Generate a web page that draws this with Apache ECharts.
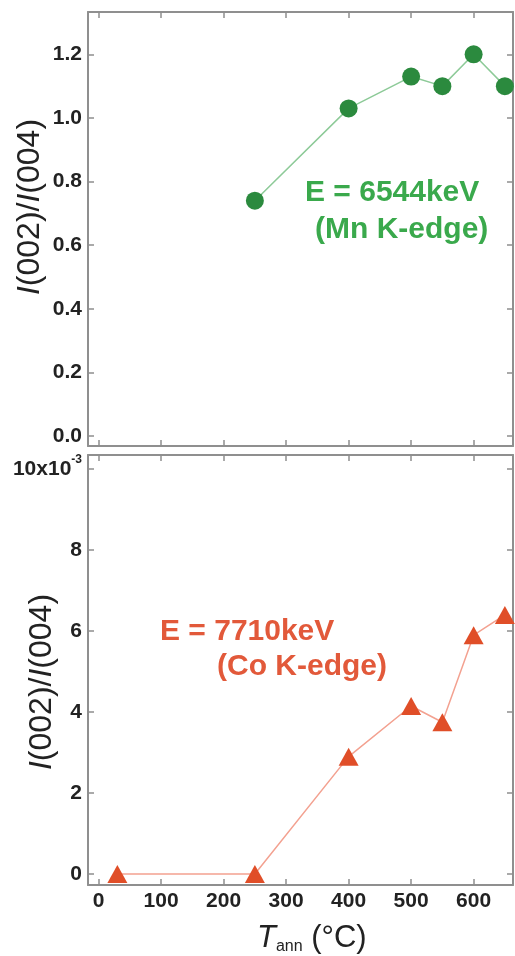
<!DOCTYPE html>
<html>
<head>
<meta charset="utf-8">
<script src="https://cdn.jsdelivr.net/npm/echarts@6/dist/echarts.min.js"></script>
<style>
html, body { margin: 0; padding: 0; background: #fff; }
#chart { width: 515px; height: 956px; }
</style>
</head>
<body>
<div id="chart"></div>
<script>
// Mn K-edge (top panel)
const mnTemps = [250, 400, 500, 550, 600, 650]
const mnRatio = [0.74, 1.03, 1.13, 1.10, 1.20, 1.10]
// Co K-edge (bottom panel), values in units of 10^-3
const coTemps = [30, 250, 400, 500, 550, 600, 650]
const coRatio = [0.0, 0.0, 2.9, 4.15, 3.75, 5.9, 6.4]

const xTicks = [0, 100, 200, 300, 400, 500, 600]
const yTicksTop = [0, 0.2, 0.4, 0.6, 0.8, 1.0, 1.2]
const yTicksBottom = [0, 2, 4, 6, 8, 10]

const frame = '#8f8f8f'
const font = '"Liberation Sans", Arial, sans-serif'
const green = '#2b8a3e'
const red = '#e04e28'

const chart = echarts.init(document.getElementById('chart'))

function xAxis(gridIndex, position, labels) {
  return {
    type: 'value', gridIndex, position,
    min: -17, max: 663,
    axisLine: { show: true, onZero: false, lineStyle: { color: frame, width: 2 } },
    axisTick: { show: true, inside: true, length: 6, customValues: xTicks, lineStyle: { color: frame, width: 1.5 } },
    axisLabel: { show: labels, customValues: xTicks, margin: 6, color: '#222', fontSize: 21, fontWeight: 'bold', fontFamily: font },
    splitLine: { show: false }
  }
}

function yAxis(gridIndex, position, min, max, ticks, labels, fmt) {
  return {
    type: 'value', gridIndex, position, min, max,
    axisLine: { show: true, onZero: false, lineStyle: { color: frame, width: 2 } },
    axisTick: { show: true, inside: true, length: 6, customValues: ticks, lineStyle: { color: frame, width: 1.5 } },
    axisLabel: {
      show: labels, customValues: ticks, margin: 6, color: '#222', fontSize: 21, fontWeight: 'bold', fontFamily: font,
      formatter: fmt,
      rich: { sup: { fontSize: 12, color: '#222', fontFamily: font, padding: [0, 0, 18, 0] } }
    },
    splitLine: { show: false }
  }
}

const yName = '{i|I}(002)/{i|I}(004)'
const yNameRich = { i: { fontStyle: 'italic', fontSize: 32, fontFamily: font, fill: '#222' } }

const option = {
  animation: false,
  backgroundColor: '#fff',
  grid: [
    { left: 88, top: 12, right: 2, height: 434 },
    { left: 88, top: 455, right: 2, height: 430 }
  ],
  xAxis: [
    xAxis(0, 'bottom', false),
    xAxis(0, 'top', false),
    xAxis(1, 'bottom', true),
    xAxis(1, 'top', false)
  ],
  yAxis: [
    yAxis(0, 'left', -0.031, 1.333, yTicksTop, true, v => v.toFixed(1)),
    yAxis(0, 'right', -0.031, 1.333, yTicksTop, false),
    yAxis(1, 'left', -0.27, 10.35, yTicksBottom, true, v => v === 10 ? '10x10{sup|-3}' : String(v)),
    yAxis(1, 'right', -0.27, 10.35, yTicksBottom, false)
  ],
  series: [
    {
      type: 'line', xAxisIndex: 0, yAxisIndex: 0,
      data: mnTemps.map((t, i) => [t, mnRatio[i]]),
      symbol: 'circle', symbolSize: 18,
      itemStyle: { color: green },
      lineStyle: { color: '#8dca98', width: 1.5 },
      clip: false
    },
    {
      type: 'line', xAxisIndex: 2, yAxisIndex: 2,
      data: coTemps.map((t, i) => [t, coRatio[i]]),
      symbol: 'triangle', symbolSize: [20, 18],
      itemStyle: { color: red },
      lineStyle: { color: '#f3a190', width: 1.5 },
      clip: false
    }
  ],
  graphic: [
    {
      type: 'text', x: 30, y: 207, rotation: Math.PI / 2,
      style: { text: yName, textAlign: 'center', textVerticalAlign: 'middle', font: '32px ' + font, fill: '#222', rich: yNameRich }
    },
    {
      type: 'text', x: 42, y: 682, rotation: Math.PI / 2,
      style: { text: yName, textAlign: 'center', textVerticalAlign: 'middle', font: '32px ' + font, fill: '#222', rich: yNameRich }
    },
    {
      type: 'text', x: 257, y: 938,
      style: {
        text: '{t|T}{s|ann}{n| (°C)}', textAlign: 'left', textVerticalAlign: 'middle',
        rich: {
          t: { fontStyle: 'italic', fontSize: 31, fontFamily: font, fill: '#222' },
          s: { fontSize: 16, fontFamily: font, fill: '#222', padding: [18, 0, 0, 0] },
          n: { fontSize: 31, fontFamily: font, fill: '#222' }
        }
      }
    },
    { type: 'text', x: 305, y: 193, style: { text: 'E = 6544keV', textVerticalAlign: 'middle', font: 'bold 30px ' + font, fill: '#3aa94c' } },
    { type: 'text', x: 315, y: 230, style: { text: '(Mn K-edge)', textVerticalAlign: 'middle', font: 'bold 30px ' + font, fill: '#3aa94c' } },
    { type: 'text', x: 160, y: 632, style: { text: 'E = 7710keV', textVerticalAlign: 'middle', font: 'bold 30px ' + font, fill: '#e2593a' } },
    { type: 'text', x: 217, y: 667, style: { text: '(Co K-edge)', textVerticalAlign: 'middle', font: 'bold 30px ' + font, fill: '#e2593a' } }
  ]
}

chart.setOption(option)
</script>
</body>
</html>
